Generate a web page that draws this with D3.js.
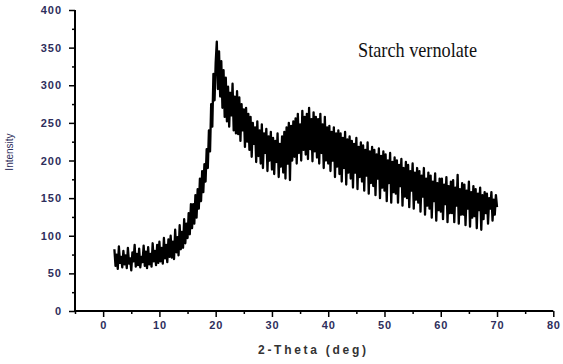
<!DOCTYPE html>
<html><head><meta charset="utf-8">
<script src="https://cdn.jsdelivr.net/npm/d3@7"></script>
<style>body{margin:0;background:#fff}svg{display:block}</style>
</head><body><svg id="c" width="563" height="364"></svg>
<script>
// 2-Theta start / step of the sampled trace (degrees)
const thetaStart = 2.0;
const thetaStep = 0.2;
// Intensity values, one row per 2 degrees
const intensity = [
  82, 60, 75, 56, 86, 64, 72, 58, 80, 62,
  74, 57, 84, 63, 70, 54, 78, 66, 88, 59,
  76, 61, 83, 58, 72, 65, 87, 60, 79, 57,
  85, 62, 76, 59, 90, 66, 80, 61, 88, 64,
  92, 66, 84, 63, 97, 70, 88, 65, 95, 72,
  100, 71, 92, 69, 108, 78, 98, 74, 114, 82,
  105, 84, 122, 90, 116, 97, 130, 102, 142, 110,
  142, 116, 154, 124, 162, 136, 176, 146, 186, 158,
  195, 172, 215, 190, 240, 212, 275, 245, 315, 280,
  330, 358, 295, 345, 285, 332, 270, 320, 258, 310,
  252, 298, 245, 290, 260, 302, 240, 285, 236, 292,
  235, 284, 226, 275, 240, 268, 218, 270, 225, 262,
  214, 258, 205, 250, 222, 244, 198, 252, 206, 240,
  196, 248, 190, 236, 210, 242, 186, 232, 200, 238,
  188, 230, 182, 226, 198, 236, 178, 222, 192, 232,
  184, 238, 176, 244, 196, 250, 174, 246, 200, 252,
  205, 256, 196, 262, 210, 248, 200, 266, 214, 258,
  208, 262, 202, 270, 215, 255, 199, 264, 212, 258,
  204, 255, 196, 262, 210, 248, 190, 258, 200, 244,
  196, 246, 186, 238, 200, 244, 178, 236, 192, 240,
  182, 236, 172, 230, 190, 238, 168, 228, 184, 232,
  176, 226, 164, 222, 184, 230, 162, 218, 178, 224,
  172, 220, 160, 214, 180, 224, 156, 212, 170, 218,
  166, 214, 154, 208, 176, 216, 150, 206, 164, 212,
  160, 208, 146, 200, 170, 210, 144, 198, 158, 204,
  156, 200, 144, 194, 166, 202, 140, 190, 152, 198,
  150, 194, 138, 186, 160, 196, 136, 184, 148, 190,
  144, 186, 132, 180, 152, 190, 128, 176, 140, 184,
  136, 180, 124, 172, 146, 183, 120, 170, 134, 176,
  132, 176, 122, 168, 142, 178, 118, 166, 130, 172,
  130, 174, 118, 164, 140, 181, 116, 162, 128, 170,
  128, 168, 114, 160, 136, 172, 112, 158, 124, 166,
  126, 162, 110, 156, 134, 164, 108, 154, 122, 158,
  130, 156, 116, 150, 136, 158, 120, 148, 128, 154,
  138
];
const xTicks = [0, 10, 20, 30, 40, 50, 60, 70, 80];
const yTicks = [0, 50, 100, 150, 200, 250, 300, 350, 400];
const xDomain = [-5, 80];
const yDomain = [0, 400];
const title = "Starch vernolate";
const xLabel = "2-Theta (deg)";
const yLabel = "Intensity";

const svg = d3.select("#c");
const x = d3.scaleLinear().domain(xDomain).range([75, 553.3]);
const y = d3.scaleLinear().domain(yDomain).range([311, 10]);
const labelColor = "#2e2e5c";

const data = intensity.map((v, i) => [thetaStart + i * thetaStep, v]);

// trace
svg.append("path")
  .datum(data)
  .attr("fill", "none")
  .attr("stroke", "#000")
  .attr("stroke-width", 2.3)
  .attr("stroke-linejoin", "round")
  .attr("d", d3.line().x(d => x(d[0])).y(d => y(d[1])));

// minor ticks
const xMinor = d3.range(-5, 81, 5).filter(v => v % 10 !== 0);
const yMinor = d3.range(25, 400, 50);

const gx = svg.append("g").attr("transform", "translate(0,311)");
gx.call(d3.axisBottom(x).tickValues(xTicks).tickSize(6).tickPadding(4).tickFormat(d3.format("d")));
gx.append("g").call(d3.axisBottom(x).tickValues(xMinor).tickSize(3).tickFormat(""))
  .select(".domain").remove();
gx.select(".domain").attr("stroke-width", 2).attr("d", `M${x(-5)},0H${x(80)}`);
gx.selectAll(".tick line").attr("stroke-width", 1.5);
gx.selectAll("text").attr("font-family", "Liberation Sans, Arial, sans-serif")
  .attr("font-size", 11).attr("font-weight", "bold").attr("letter-spacing", 0.8).attr("fill", labelColor);

const gy = svg.append("g").attr("transform", "translate(75,0)");
gy.call(d3.axisLeft(y).tickValues(yTicks).tickSize(6).tickPadding(7).tickFormat(d3.format("d")));
gy.append("g").call(d3.axisLeft(y).tickValues(yMinor).tickSize(3).tickFormat(""))
  .select(".domain").remove();
gy.select(".domain").attr("stroke-width", 2).attr("d", `M0,${y(0)}V${y(400)}`);
gy.selectAll(".tick line").attr("stroke-width", 1.5);
gy.selectAll("text").attr("font-family", "Liberation Sans, Arial, sans-serif")
  .attr("font-size", 11).attr("font-weight", "bold").attr("letter-spacing", 1).attr("fill", labelColor);

// axis titles
svg.append("text")
  .attr("x", 258).attr("y", 354)
  .attr("font-family", "Liberation Sans, Arial, sans-serif")
  .attr("font-size", 12).attr("font-weight", "bold")
  .attr("textLength", 108).attr("lengthAdjust", "spacing")
  .attr("fill", "#333")
  .text(xLabel);

svg.append("text")
  .attr("transform", "translate(13,152) rotate(-90)")
  .attr("text-anchor", "middle")
  .attr("font-family", "Liberation Sans, Arial, sans-serif")
  .attr("font-size", 10)
  .attr("fill", labelColor)
  .text(yLabel);

// annotation
svg.append("text")
  .attr("x", 358).attr("y", 57)
  .attr("font-family", "Liberation Serif, Times New Roman, serif")
  .attr("font-size", 21)
  .attr("textLength", 119).attr("lengthAdjust", "spacingAndGlyphs")
  .attr("fill", "#111")
  .text(title);
</script></body></html>
